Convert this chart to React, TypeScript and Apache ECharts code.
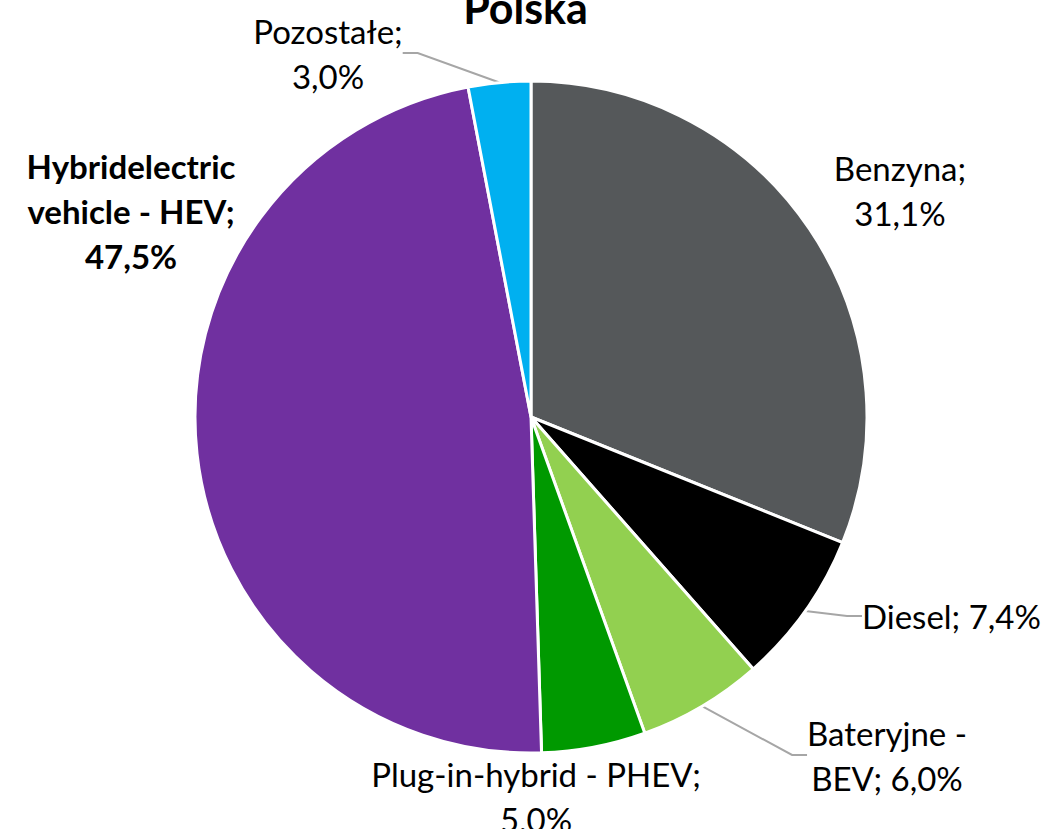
import React, { useEffect, useRef } from "react";
import * as echarts from "echarts";

const categories = ["Benzyna", "Diesel", "Bateryjne - BEV", "Plug-in-hybrid - PHEV", "Hybridelectric vehicle - HEV", "Pozostałe"];
const values = [31.1, 7.4, 6.0, 5.0, 47.5, 3.0];
const labelTexts = [
  "Benzyna;\n31,1%",
  "Diesel; 7,4%",
  "Bateryjne -\nBEV; 6,0%",
  "Plug-in-hybrid - PHEV;\n5,0%",
  "Hybridelectric\nvehicle - HEV;\n47,5%",
  "Pozostałe;\n3,0%",
];
const colors = ["#55585A", "#000000", "#92D050", "#009900", "#7030A0", "#00B0F0"];

// label layout positions (center x, center y)
const labelPos = [
  { x: 900, y: 190, align: "center" },
  { x: 862, y: 616, align: "left" },
  { x: 887, y: 755, align: "center" },
  { x: 536, y: 796, align: "center" },
  { x: 131, y: 211, align: "center" },
  { x: 328, y: 53, align: "center" },
];
const showLine = [false, true, true, false, false, true];

export default function App() {
  const ref = useRef<HTMLDivElement>(null);
  useEffect(() => {
    const chart = echarts.init(ref.current!, null, { renderer: "svg" });
    chart.setOption({
      animation: false,
      backgroundColor: "#ffffff",
      title: {
        text: "Polska",
        left: "center",
        top: -19,
        textStyle: { fontFamily: "Lato", fontWeight: "bold", fontSize: 43, color: "#000" },
      },
      series: [
        {
          type: "pie",
          center: [531, 417],
          radius: 336,
          startAngle: 90,
          clockwise: true,
          itemStyle: { borderColor: "#ffffff", borderWidth: 3 },
          label: {
            show: true,
            position: "outside",
            fontFamily: "Lato",
            fontSize: 33,
            lineHeight: 45,
            color: "#000",
            overflow: "none",
          },
          labelLine: {
            show: true,
            length: 20,
            length2: 15,
            lineStyle: { color: "#A6A6A6", width: 2 },
          },
          labelLayout: (p: any) => {
            const pos = labelPos[p.dataIndex];
            return { x: pos.x, y: pos.y, align: pos.align, verticalAlign: "middle" };
          },
          data: categories.map((c, i) => ({
            name: c,
            value: values[i],
            itemStyle: { color: colors[i] },
            label: {
              formatter: labelTexts[i],
              fontWeight: i === 4 ? "bold" : "normal",
              overflow: "none",
            },
            labelLine: { show: showLine[i] },
          })),
        },
      ],
    });
    return () => chart.dispose();
  }, []);
  return <div ref={ref} style={{ position: "fixed", left: 0, top: 0, width: 1051, height: 829 }} />;
}
